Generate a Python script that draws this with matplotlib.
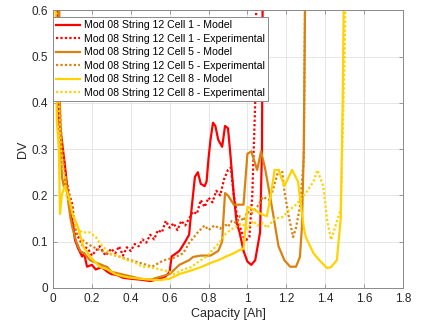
import matplotlib
matplotlib.use("Agg")
import matplotlib.pyplot as plt

plt.rcParams['font.family'] = ['Liberation Sans', 'DejaVu Sans']

# capacity [Ah] / DV readings per cell
cell1_model_x = [0.02, 0.025, 0.03, 0.045, 0.06, 0.077, 0.09, 0.1, 0.113, 0.13, 0.15, 0.16, 0.175,
                 0.2, 0.22, 0.25, 0.28, 0.3, 0.33, 0.36, 0.4, 0.45, 0.5, 0.55, 0.58, 0.6, 0.61,
                 0.65, 0.68, 0.7, 0.71, 0.72, 0.73, 0.745, 0.76, 0.78, 0.79, 0.8, 0.81, 0.823,
                 0.835, 0.85, 0.87, 0.885, 0.9, 0.91, 0.93, 0.945, 0.96, 0.98, 1.0, 1.02, 1.04,
                 1.065, 1.075, 1.08]
cell1_model_y = [0.8, 0.45, 0.37, 0.32, 0.27, 0.2, 0.17, 0.147, 0.104, 0.085, 0.068, 0.075, 0.046,
                 0.05, 0.04, 0.045, 0.035, 0.03, 0.028, 0.022, 0.02, 0.018, 0.015, 0.02, 0.025, 0.035,
                 0.068, 0.08, 0.1, 0.115, 0.16, 0.2, 0.24, 0.25, 0.225, 0.22, 0.23, 0.28, 0.32, 0.357,
                 0.35, 0.32, 0.305, 0.35, 0.345, 0.3, 0.2, 0.14, 0.12, 0.08, 0.057, 0.05, 0.06,
                 0.12, 0.3, 0.8]

cell1_exp_x = [0.01, 0.02, 0.03, 0.04, 0.05, 0.06, 0.07, 0.085, 0.1, 0.113, 0.13, 0.155, 0.18, 0.2,
               0.22, 0.24, 0.27, 0.3, 0.32, 0.34, 0.36, 0.38, 0.4, 0.42, 0.44, 0.46, 0.48, 0.5,
               0.52, 0.54, 0.56, 0.58, 0.6, 0.62, 0.64, 0.66, 0.68, 0.7, 0.72, 0.74, 0.76, 0.78,
               0.8, 0.82, 0.84, 0.86, 0.88, 0.9, 0.915, 0.93, 0.95, 0.98, 0.995, 1.01, 1.025,
               1.04, 1.05]
cell1_exp_y = [0.8, 0.42, 0.35, 0.3, 0.28, 0.26, 0.23, 0.2, 0.18, 0.12, 0.11, 0.09, 0.085, 0.07,
               0.08, 0.09, 0.07, 0.085, 0.075, 0.09, 0.07, 0.088, 0.08, 0.095, 0.09, 0.105, 0.098, 0.115,
               0.105, 0.125, 0.12, 0.145, 0.13, 0.14, 0.125, 0.145, 0.135, 0.15, 0.165, 0.16, 0.19, 0.175,
               0.195, 0.185, 0.21, 0.2, 0.235, 0.255, 0.26, 0.2, 0.147, 0.11, 0.104, 0.11, 0.2,
               0.4, 0.8]

cell5_model_x = [0.03, 0.035, 0.04, 0.046, 0.055, 0.065, 0.077, 0.09, 0.1, 0.12, 0.14, 0.16, 0.19,
                 0.22, 0.25, 0.28, 0.3, 0.35, 0.4, 0.45, 0.5, 0.55, 0.6, 0.65, 0.7, 0.72, 0.76,
                 0.81, 0.85, 0.87, 0.875, 0.885, 0.9, 0.93, 0.98, 1.0, 1.02, 1.05, 1.07, 1.09,
                 1.12, 1.14, 1.16, 1.19, 1.22, 1.25, 1.27, 1.28, 1.29, 1.3]
cell5_model_y = [0.8, 0.4, 0.33, 0.24, 0.22, 0.24, 0.19, 0.15, 0.13, 0.1, 0.08, 0.075, 0.06,
                 0.055, 0.05, 0.045, 0.035, 0.03, 0.025, 0.02, 0.018, 0.024, 0.03, 0.05, 0.06, 0.067, 0.07,
                 0.07, 0.08, 0.1, 0.14, 0.205, 0.2, 0.18, 0.18, 0.29, 0.295, 0.255, 0.295, 0.26,
                 0.19, 0.14, 0.09, 0.06, 0.046, 0.046, 0.067, 0.13, 0.3, 0.8]

cell5_exp_x = [0.02, 0.03, 0.04, 0.05, 0.06, 0.07, 0.08, 0.09, 0.1, 0.12, 0.14, 0.16, 0.18, 0.2,
               0.24, 0.28, 0.34, 0.4, 0.45, 0.51, 0.57, 0.62, 0.67, 0.7, 0.74, 0.756, 0.78, 0.8,
               0.83, 0.86, 0.88, 0.9, 0.92, 0.945, 0.96, 0.98, 1.0, 1.02, 1.05, 1.08, 1.11, 1.13,
               1.16, 1.18, 1.19, 1.21, 1.235, 1.25, 1.27, 1.29, 1.3]
cell5_exp_y = [0.8, 0.45, 0.35, 0.3, 0.25, 0.22, 0.2, 0.17, 0.16, 0.12, 0.11, 0.1, 0.095, 0.09,
               0.082, 0.075, 0.068, 0.06, 0.054, 0.046, 0.06, 0.065, 0.075, 0.097, 0.118, 0.125, 0.135, 0.125,
               0.135, 0.128, 0.14, 0.132, 0.145, 0.14, 0.155, 0.145, 0.165, 0.16, 0.175, 0.197, 0.19, 0.21,
               0.255, 0.25, 0.21, 0.16, 0.11, 0.13, 0.175, 0.28, 0.8]

cell8_model_x = [0.01, 0.015, 0.02, 0.03, 0.036, 0.045, 0.06, 0.07, 0.08, 0.1, 0.13, 0.155, 0.19,
                 0.24, 0.28, 0.32, 0.36, 0.4, 0.45, 0.5, 0.55, 0.6, 0.65, 0.72, 0.76, 0.81, 0.85,
                 0.89, 0.93, 0.96, 0.98, 1.0, 1.03, 1.07, 1.1, 1.12, 1.14, 1.16, 1.19, 1.23, 1.26,
                 1.29, 1.3, 1.34, 1.37, 1.41, 1.43, 1.46, 1.48, 1.49, 1.5]
cell8_model_y = [0.8, 0.5, 0.36, 0.3, 0.16, 0.2, 0.22, 0.21, 0.2, 0.16, 0.13, 0.09, 0.068,
                 0.046, 0.04, 0.03, 0.025, 0.022, 0.02, 0.018, 0.017, 0.02, 0.03, 0.039, 0.045, 0.054, 0.06,
                 0.068, 0.075, 0.082, 0.085, 0.175, 0.17, 0.16, 0.155, 0.2, 0.255, 0.255, 0.22, 0.255, 0.23,
                 0.13, 0.11, 0.075, 0.06, 0.043, 0.045, 0.06, 0.15, 0.4, 0.8]

cell8_exp_x = [0.01, 0.02, 0.03, 0.04, 0.05, 0.06, 0.07, 0.09, 0.1, 0.12, 0.15, 0.19, 0.22, 0.24,
               0.29, 0.33, 0.38, 0.42, 0.46, 0.5, 0.55, 0.6, 0.62, 0.67, 0.71, 0.76, 0.79, 0.82,
               0.86, 0.89, 0.93, 0.97, 1.0, 1.03, 1.05, 1.08, 1.1, 1.14, 1.18, 1.22, 1.25, 1.3,
               1.34, 1.36, 1.39, 1.41, 1.43, 1.45, 1.48, 1.5, 1.51]
cell8_exp_y = [0.8, 0.5, 0.4, 0.3, 0.26, 0.24, 0.2, 0.18, 0.16, 0.13, 0.12, 0.12, 0.11, 0.097,
               0.075, 0.07, 0.06, 0.055, 0.046, 0.045, 0.04, 0.035, 0.03, 0.04, 0.045, 0.06, 0.068, 0.082,
               0.1, 0.118, 0.13, 0.14, 0.128, 0.145, 0.135, 0.14, 0.13, 0.15, 0.153, 0.17, 0.18, 0.205,
               0.23, 0.255, 0.22, 0.147, 0.104, 0.13, 0.17, 0.5, 0.8]

labels = ['Mod 08 String 12 Cell 1 - Model', 'Mod 08 String 12 Cell 1 - Experimental',
          'Mod 08 String 12 Cell 5 - Model', 'Mod 08 String 12 Cell 5 - Experimental',
          'Mod 08 String 12 Cell 8 - Model', 'Mod 08 String 12 Cell 8 - Experimental']

red = '#ff0000'
orange = '#d9820f'
yellow = '#ffd200'
dotted = (0, (1, 1))

fig = plt.figure(figsize=(4.38, 3.26), dpi=100)
ax = fig.add_axes([0.121, 0.1166, 0.799, 0.852])

ax.plot(cell1_model_x, cell1_model_y, color=red, lw=1.6, label=labels[0])
ax.plot(cell1_exp_x, cell1_exp_y, color=red, lw=1.6, ls=dotted, label=labels[1])
ax.plot(cell5_model_x, cell5_model_y, color=orange, lw=1.6, label=labels[2])
ax.plot(cell5_exp_x, cell5_exp_y, color=orange, lw=1.6, ls=dotted, label=labels[3])
ax.plot(cell8_model_x, cell8_model_y, color=yellow, lw=1.6, label=labels[4])
ax.plot(cell8_exp_x, cell8_exp_y, color=yellow, lw=1.6, ls=dotted, label=labels[5])

ax.set_xlim(0, 1.8)
ax.set_ylim(0, 0.6)
ax.set_xticks([0, 0.2, 0.4, 0.6, 0.8, 1, 1.2, 1.4, 1.6, 1.8])
ax.set_xticklabels(['0', '0.2', '0.4', '0.6', '0.8', '1', '1.2', '1.4', '1.6', '1.8'])
ax.set_yticks([0, 0.1, 0.2, 0.3, 0.4, 0.5, 0.6])
ax.set_yticklabels(['0', '0.1', '0.2', '0.3', '0.4', '0.5', '0.6'])

ax.grid(True, color='#e3e3e3', lw=0.6)
ax.set_axisbelow(True)
ax.tick_params(direction='in', length=3, width=0.6, top=True, right=True,
               colors='#8a8a8a', labelcolor='#262626', labelsize=8.5)
for spine in ax.spines.values():
    spine.set_color('#8a8a8a')
    spine.set_linewidth(0.7)

ax.set_xlabel('Capacity [Ah]', fontsize=9, color='#262626', labelpad=2)
ax.set_ylabel('DV', fontsize=9, color='#262626', labelpad=2)

leg = ax.legend(loc='upper left', bbox_to_anchor=(0.0, 0.975), borderaxespad=0,
                fontsize=7.6, fancybox=False, framealpha=1, edgecolor='#8a8a8a',
                handlelength=2.3, handletextpad=0.3, labelspacing=0.33, borderpad=0.3)
leg.get_frame().set_linewidth(0.7)

fig.savefig('out.png', dpi=100, facecolor='white')
